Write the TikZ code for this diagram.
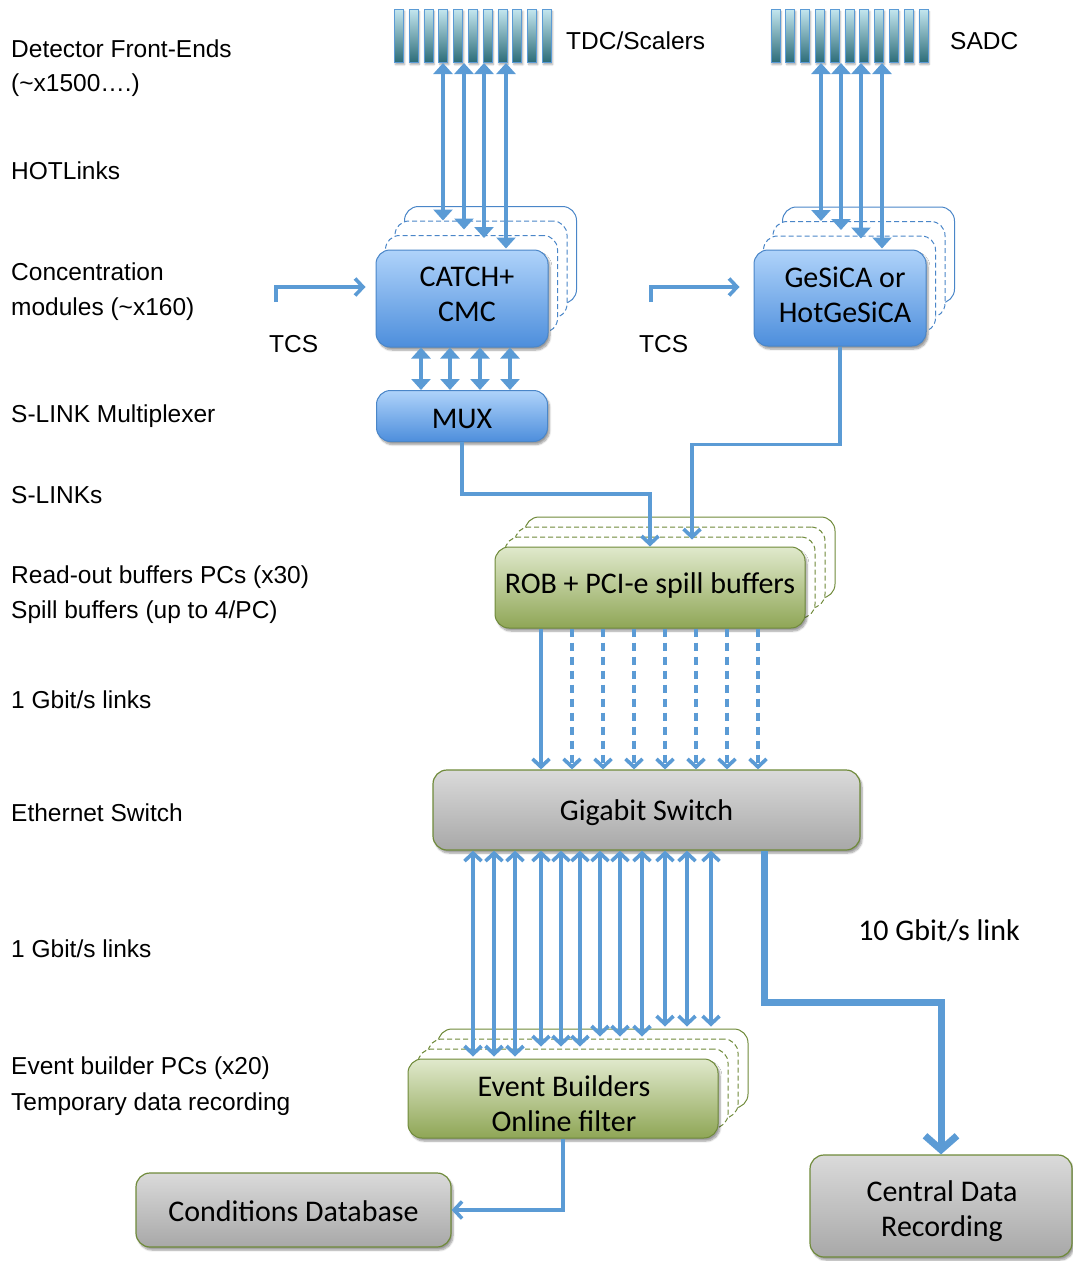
\documentclass[tikz,border=0pt]{standalone}
\usepackage{fontspec}
\setmainfont{Carlito}
\newfontfamily\arialf{Liberation Sans}
\usetikzlibrary{arrows.meta,shadows.blur,calc}
\definecolor{arr}{HTML}{5B9BD5}
\definecolor{bluetop}{HTML}{AFD3FA}
\definecolor{bluebot}{HTML}{4D8EDC}
\definecolor{blueedge}{HTML}{4A86C8}
\definecolor{greentop}{HTML}{E0E9CC}
\definecolor{greenbot}{HTML}{8FA656}
\definecolor{greenedge}{HTML}{6F8A3A}
\definecolor{graytop}{HTML}{DADADA}
\definecolor{graymid}{HTML}{C0C0C0}
\definecolor{graybot}{HTML}{A8A8A8}
\definecolor{baredge}{HTML}{5B9BD5}
\definecolor{bartop}{HTML}{C2E5EE}
\definecolor{barbot}{HTML}{2C6C78}
\tikzset{
  lbl/.style={anchor=base west, inner sep=0pt, font=\arialf\fontsize{24.5}{30}\selectfont},
  boxtext/.style={align=center, font=\fontsize{30}{35}\selectfont, inner sep=0pt},
  shad/.style={blur shadow={shadow xshift=2pt, shadow yshift=-3pt, shadow blur steps=6, shadow opacity=40}},
  bluebox/.style={boxtext, shad, rounded corners=14pt, draw=blueedge, line width=1pt, top color=bluetop, bottom color=bluebot},
  greenbox/.style={boxtext, shad, rounded corners=14pt, draw=greenedge, line width=1pt, top color=greentop, bottom color=greenbot},
  graybox/.style={boxtext, shad, rounded corners=14pt, draw=greenedge, line width=1.2pt, top color=graytop, middle color=graymid, bottom color=graybot},
  layer/.style={rounded corners=14pt, draw=#1, fill=white, line width=1pt, inner sep=0pt},
  dlayer/.style={layer=#1, dash pattern=on 5pt off 3pt},
  bar/.style={draw=baredge, line width=1pt, top color=bartop, bottom color=barbot, minimum width=9pt, minimum height=53pt, inner sep=0pt, blur shadow={shadow xshift=1pt, shadow yshift=-2pt, shadow blur steps=4, shadow opacity=35}},
  tri/.style={draw=arr, line width=3.6pt, {Triangle[length=11pt,width=19pt]}-{Triangle[length=11pt,width=19pt]}},
  barb/.style={draw=arr, line width=3.6pt, -{Straight Barb[length=8pt,width=17pt]}},
  dbarb/.style={draw=arr, line width=3.6pt, {Straight Barb[length=8pt,width=17pt]}-{Straight Barb[length=8pt,width=17pt]}},
}
\begin{document}
\begin{tikzpicture}[x=1pt,y=-1pt]
\useasboundingbox (0,0) rectangle (1073,1261);

% ---------- left labels ----------
\node[lbl] (l1a) at (11,57) {Detector Front-Ends};
\node[lbl] (l1b) at (11,91) {(\textasciitilde x1500….)};
\node[lbl] (l2) at (11,179) {HOTLinks};
\node[lbl] (l3a) at (11,280) {Concentration};
\node[lbl] (l3b) at (11,315) {modules (\textasciitilde x160)};
\node[lbl] (l4) at (11,422) {S-LINK Multiplexer};
\node[lbl] (l5) at (11,503) {S-LINKs};
\node[lbl] (l6a) at (11,583) {Read-out buffers PCs (x30)};
\node[lbl] (l6b) at (11,618) {Spill buffers (up to 4/PC)};
\node[lbl] (l7) at (11,708) {1 Gbit/s links};
\node[lbl] (l8) at (11,821) {Ethernet Switch};
\node[lbl] (l9) at (11,957) {1 Gbit/s links};
\node[lbl] (l10a) at (11,1074) {Event builder PCs (x20)};
\node[lbl] (l10b) at (11,1110) {Temporary data recording};

% ---------- front-end combs ----------
\foreach \i in {1,...,11}{
  \node[bar] (tdc\i) at ({399+14.8*(\i-1)},36) {};
  \node[bar] (sadc\i) at ({775.5+14.8*(\i-1)},36) {};
}
\node[lbl] (tdclbl) at (566,49) {TDC/Scalers};
\node[lbl] (sadclbl) at (950,49) {SADC};

% ---------- CATCH stack ----------
\node[layer=blueedge, minimum width=172pt, minimum height=97pt] (catchL1) at (490.5,255) {};
\node[dlayer=blueedge, minimum width=172pt, minimum height=97pt] (catchL2) at (481,269.5) {};
\node[dlayer=blueedge, minimum width=172pt, minimum height=97pt] (catchL3) at (471.5,284) {};
\node[bluebox, minimum width=172pt, minimum height=97pt] (catch) at (462,298.5) {};
\node[boxtext] (catchtxt) at (467,294.5) {CATCH+\\CMC};

% ---------- GeSiCA stack ----------
\node[layer=blueedge, minimum width=172pt, minimum height=96pt] (gesL1) at (868.5,255) {};
\node[dlayer=blueedge, minimum width=172pt, minimum height=96pt] (gesL2) at (859,269.5) {};
\node[dlayer=blueedge, minimum width=172pt, minimum height=96pt] (gesL3) at (849.5,284) {};
\node[bluebox, minimum width=172pt, minimum height=96pt] (ges) at (840,298) {};
\node[boxtext] (gestxt) at (845,295) {GeSiCA or\\HotGeSiCA};

% ---------- MUX ----------
\node[bluebox, minimum width=171pt, minimum height=51pt] (mux) at (462,416) {};
\node[boxtext] (muxtxt) at (462,419) {MUX};

% ---------- ROB stack ----------
\node[layer=greenedge, minimum width=310pt, minimum height=81pt] (robL1) at (680,557.5) {};
\node[dlayer=greenedge, minimum width=310pt, minimum height=81pt] (robL2) at (670,567.5) {};
\node[dlayer=greenedge, minimum width=310pt, minimum height=81pt] (robL3) at (660,577.5) {};
\node[greenbox, minimum width=310pt, minimum height=81pt] (rob) at (650,587.5) {};
\node[boxtext] (robtxt) at (650,585.5) {ROB + PCI-e spill buffers};

% ---------- Gigabit switch ----------
\node[graybox, minimum width=427pt, minimum height=80pt] (sw) at (646.5,810) {};
\node[boxtext] (swtxt) at (646.5,813) {Gigabit Switch};

% ---------- Event builders stack ----------
\node[layer=greenedge, minimum width=310pt, minimum height=79pt] (ebL1) at (593,1068.5) {};
\node[dlayer=greenedge, minimum width=310pt, minimum height=79pt] (ebL2) at (583,1078.5) {};
\node[dlayer=greenedge, minimum width=310pt, minimum height=79pt] (ebL3) at (573,1088.5) {};
\node[greenbox, minimum width=310pt, minimum height=79pt] (eb) at (563,1098.5) {};
\node[boxtext] (ebtxt) at (564,1104) {Event Builders\\Online filter};

% ---------- bottom boxes ----------
\node[graybox, minimum width=315pt, minimum height=74pt] (cdb) at (293.5,1210) {};
\node[boxtext] (cdbtxt) at (293.5,1211) {Conditions Database};
\node[graybox, minimum width=262pt, minimum height=102pt] (cdr) at (941,1206) {};
\node[boxtext] (cdrtxt) at (942,1211.5) {Central Data\\Recording};

% ---------- TCS ----------
\coordinate (tcs1) at (276,302);
\coordinate (tcs2) at (651,302);
\node[lbl] (tcslbl1) at (269,352) {TCS};
\node[lbl] (tcslbl2) at (639,352) {TCS};
\draw[barb] (tcs1) |- ([xshift=-10pt,yshift=11.5pt]catch.west);
\draw[barb] (tcs2) |- ([xshift=-14pt,yshift=11pt]ges.west);

% ---------- comb <-> concentrators ----------
\draw[tri] (443,0 |- tdc1.south) -- (443,0 |- catchL2.north);
\draw[tri] (464,0 |- tdc1.south) -- ([yshift=-9pt]464,0 |- catchL2.north);
\draw[tri] (484,0 |- tdc1.south) -- ([yshift=-3pt]484,0 |- catchL3.north);
\draw[tri] (506,0 |- tdc1.south) -- ([yshift=1pt]506,0 |- catch.north);
\draw[tri] (821,0 |- sadc1.south) -- (821,0 |- gesL2.north);
\draw[tri] (841,0 |- sadc1.south) -- ([yshift=-9pt]841,0 |- gesL2.north);
\draw[tri] (861,0 |- sadc1.south) -- ([yshift=-3pt]861,0 |- gesL3.north);
\draw[tri] (882,0 |- sadc1.south) -- ([yshift=1pt]882,0 |- ges.north);

% ---------- CATCH <-> MUX ----------
\foreach \x in {421,450,480,510}
  \draw[tri] (\x,0 |- catch.south) -- (\x,0 |- mux.north);

% ---------- to ROB ----------
\draw[barb] (mux.south) -- ++(0,52) -| (rob.north);
\draw[barb] (ges.south) -- ++(0,98) -| ([xshift=32pt,yshift=-3pt]robL3.north);

% ---------- ROB -> switch ----------
\draw[barb] (541,0 |- rob.south) -- (541,0 |- sw.north);
\foreach \x in {572,603,634,665,696,727,758}
  \draw[barb, dash pattern=on 8pt off 6pt] (\x,0 |- rob.south) -- (\x,0 |- sw.north);

% ---------- switch <-> event builders ----------
\foreach \x/\n in {473/eb,494/eb,515/eb,541/ebL3,561/ebL3,580/ebL3,600/ebL2,620/ebL2,642/ebL2,665/ebL1,687/ebL1,711/ebL1}
  \draw[dbarb] (\x,0 |- sw.south) -- ([yshift=2pt]\x,0 |- \n.north);

% ---------- EB -> conditions DB ----------
\draw[barb] (eb.south) |- (cdb.east);

% ---------- 10 Gbit/s link ----------
\draw[draw=arr, line width=7pt, -{Straight Barb[length=14pt,width=32pt]}] ([xshift=117.5pt]sw.south) -- ++(0,152) -| (cdr.north);
\node[boxtext] (tenlbl) at (939,931) {10 Gbit/s link};
\end{tikzpicture}
\end{document}
